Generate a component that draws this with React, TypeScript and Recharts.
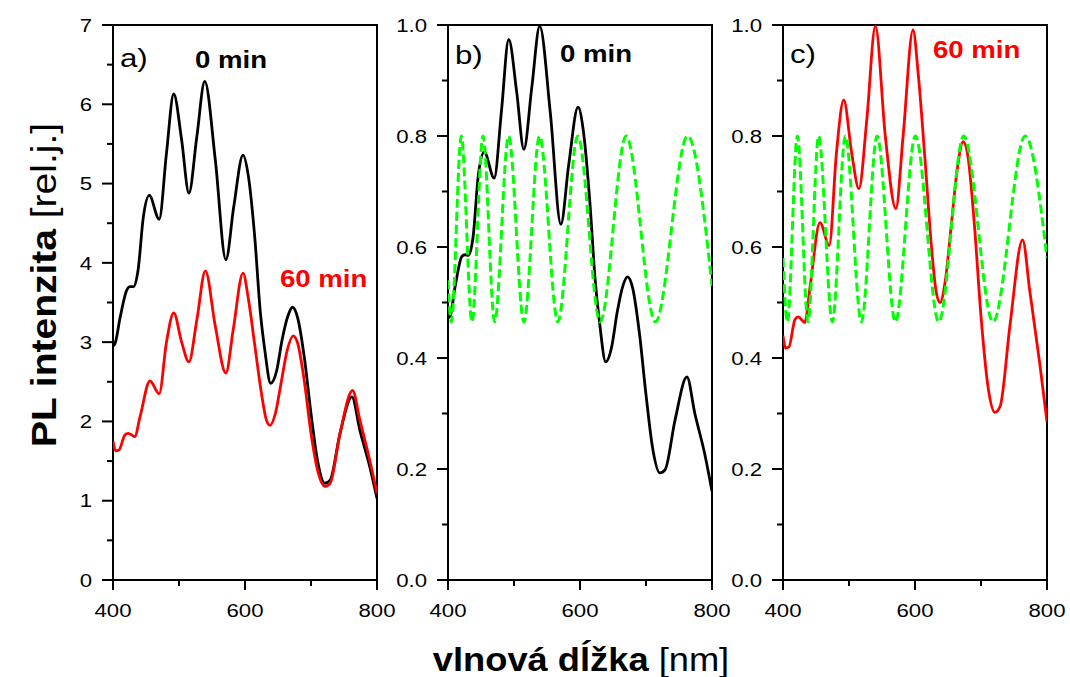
import React from 'react';
import { LineChart, Line, XAxis, YAxis, ReferenceArea } from 'recharts';

// axis ticks
const wlTicks = [400, 500, 600, 700, 800];
const wlLabels = [400, 600, 800];
const absTicks = [0, 0.5, 1, 1.5, 2, 2.5, 3, 3.5, 4, 4.5, 5, 5.5, 6, 6.5, 7];
const absLabels = [0, 1, 2, 3, 4, 5, 6, 7];
const normTicks = [0, 0.1, 0.2, 0.3, 0.4, 0.5, 0.6, 0.7, 0.8, 0.9, 1.0];
const normLabels = [0, 0.2, 0.4, 0.6, 0.8, 1.0];

// a) raw spectra, 0 min
const a0Wl = [400, 403, 411, 421, 426, 431, 438, 446, 455, 470, 481, 492, 504, 515, 527, 539, 555, 571, 583, 597, 605, 615, 623, 630, 639, 648, 656, 665, 672, 680, 690, 700, 710, 721, 729, 744, 762, 774, 789, 800];
const a0Pl = [2.95, 2.98, 3.32, 3.66, 3.7, 3.7, 3.91, 4.58, 4.85, 4.55, 5.38, 6.13, 5.55, 4.88, 5.59, 6.29, 5.3, 4.04, 4.71, 5.36, 5.1, 4.3, 3.4, 2.9, 2.48, 2.64, 3.02, 3.33, 3.44, 3.3, 2.8, 2.1, 1.5, 1.22, 1.26, 1.85, 2.31, 1.89, 1.43, 1.03];

// a) raw spectra, 60 min
const a60Wl = [400, 404, 409, 418, 423, 433, 441, 456, 470, 481, 492, 504, 515, 527, 540, 555, 571, 582, 597, 605, 615, 625, 632, 638, 646, 655, 664, 673, 680, 690, 700, 711, 721, 729, 744, 763, 774, 789, 800];
const a60Pl = [1.75, 1.63, 1.64, 1.83, 1.85, 1.81, 2.06, 2.51, 2.35, 3.0, 3.37, 3.0, 2.75, 3.28, 3.9, 3.2, 2.61, 3.15, 3.87, 3.55, 2.95, 2.35, 2.03, 1.95, 2.1, 2.5, 2.9, 3.08, 2.98, 2.5, 1.85, 1.35, 1.18, 1.22, 1.85, 2.39, 2.02, 1.51, 1.09];

// b) normalized 0 min
const b0Wl = [400, 403, 411, 421, 426, 431, 438, 446, 455, 470, 481, 492, 504, 515, 527, 539, 555, 571, 583, 597, 605, 615, 623, 630, 639, 648, 656, 665, 672, 680, 690, 700, 710, 721, 729, 744, 762, 774, 789, 800];
const b0Pl = [0.472, 0.475, 0.53, 0.583, 0.586, 0.585, 0.618, 0.73, 0.771, 0.724, 0.845, 0.974, 0.88, 0.776, 0.888, 0.998, 0.842, 0.641, 0.749, 0.852, 0.81, 0.68, 0.54, 0.46, 0.393, 0.42, 0.48, 0.53, 0.546, 0.525, 0.445, 0.334, 0.238, 0.193, 0.199, 0.288, 0.366, 0.3, 0.227, 0.16];

// c) normalized 60 min
const c60Wl = [400, 404, 409, 418, 423, 433, 441, 456, 470, 481, 492, 504, 515, 527, 540, 555, 571, 582, 597, 605, 615, 625, 632, 638, 646, 655, 664, 673, 680, 690, 700, 711, 721, 729, 744, 763, 774, 789, 800];
const c60Pl = [0.44, 0.418, 0.42, 0.469, 0.474, 0.464, 0.528, 0.644, 0.603, 0.77, 0.865, 0.77, 0.705, 0.83, 0.998, 0.8, 0.669, 0.8, 0.991, 0.91, 0.76, 0.6, 0.52, 0.5, 0.54, 0.64, 0.74, 0.79, 0.765, 0.64, 0.475, 0.345, 0.302, 0.313, 0.46, 0.613, 0.52, 0.39, 0.285];

// interference fit (green dashed) for b) and c)
const bFitWl = [400, 405, 420.2, 436.3, 453, 470.7, 491.8, 515, 538.7, 566.4, 596.7, 630.5, 669.9, 714.2, 763, 800];
const bFitPl = [0.54, 0.465, 0.8, 0.465, 0.8, 0.465, 0.8, 0.465, 0.8, 0.465, 0.8, 0.465, 0.8, 0.465, 0.8, 0.53];
const cFitWl = [400, 406.6, 421.8, 437.9, 454, 474.8, 494.5, 518.8, 542.5, 570.3, 600.6, 636, 673.8, 718.2, 767, 800];
const cFitPl = [0.58, 0.465, 0.8, 0.465, 0.8, 0.465, 0.8, 0.465, 0.8, 0.465, 0.8, 0.465, 0.8, 0.465, 0.8, 0.58];

const toPts = (wl: number[], pl: number[]) => wl.map((w, i) => ({ wl: w, pl: pl[i] }));

const FONT = "'Liberation Sans', Arial, sans-serif";
const SX = 1.2; // labels are a bit wide in the original

const isMajor = (v: number, majors: number[]) => majors.some((m) => Math.abs(m - v) < 1e-6);

function yTick(majors: number[], digits: number) {
  return (props: any) => {
    const { x, y, payload } = props;
    const v = payload.value as number;
    const major = isMajor(v, majors);
    return (
      <g>
        <line x1={x} y1={y} x2={x - (major ? 11 : 6)} y2={y} stroke="#000" strokeWidth={2} />
        {major && (
          <text
            transform={`translate(${x - 21},${y}) scale(${SX},1)`}
            textAnchor="end"
            dy="0.36em"
            fontSize={18.5}
            fontFamily={FONT}
            fill="#000"
          >
            {v.toFixed(digits)}
          </text>
        )}
      </g>
    );
  };
}

function xTick(props: any) {
  const { x, y, payload } = props;
  const v = payload.value as number;
  const major = isMajor(v, wlLabels);
  return (
    <g>
      <line x1={x} y1={y} x2={x} y2={y + (major ? 10 : 6)} stroke="#000" strokeWidth={2} />
      {major && (
        <text
          transform={`translate(${x},${y + 37}) scale(${SX},1)`}
          textAnchor="middle"
          fontSize={18.5}
          fontFamily={FONT}
          fill="#000"
        >
          {v}
        </text>
      )}
    </g>
  );
}

type PanelProps = {
  left: number;
  axisW: number;
  yMax: number;
  yTicks: number[];
  yMajors: number[];
  digits: number;
  children: React.ReactNode;
};

function Panel({ left, axisW, yMax, yTicks, yMajors, digits, children }: PanelProps) {
  const plotW = 264;
  return (
    <div style={{ position: 'absolute', left, top: 0 }}>
      <LineChart width={axisW + plotW + 25} height={677} margin={{ top: 25, right: 25, bottom: 57, left: 0 }}>
        <XAxis
          type="number"
          dataKey="wl"
          domain={[400, 800]}
          ticks={wlTicks}
          interval={0}
          height={40}
          axisLine={false}
          tickLine={false}
          tickSize={0}
          tickMargin={0}
          tick={xTick}
          allowDataOverflow
        />
        <YAxis
          type="number"
          domain={[0, yMax]}
          ticks={yTicks}
          interval={0}
          width={axisW}
          axisLine={false}
          tickLine={false}
          tickSize={0}
          tickMargin={0}
          tick={yTick(yMajors, digits)}
          allowDataOverflow
        />
        <ReferenceArea x1={400} x2={800} y1={0} y2={yMax} fill="none" fillOpacity={0} stroke="#000" strokeWidth={2} />
        {children}
      </LineChart>
    </div>
  );
}

const lineCommon = {
  dataKey: 'pl',
  type: 'monotone' as const,
  dot: false,
  activeDot: false,
  isAnimationActive: false,
};

export default function App() {
  return (
    <div style={{ position: 'absolute', left: 0, top: 0, width: 1070, height: 677, background: '#fff', overflow: 'hidden' }}>
      <Panel left={0} axisW={113} yMax={7} yTicks={absTicks} yMajors={absLabels} digits={0}>
        <Line {...lineCommon} data={toPts(a0Wl, a0Pl)} stroke="#000" strokeWidth={2.8} />
        <Line {...lineCommon} data={toPts(a60Wl, a60Pl)} stroke="#ff0000" strokeWidth={2.8} />
      </Panel>
      <Panel left={380} axisW={68} yMax={1} yTicks={normTicks} yMajors={normLabels} digits={1}>
        <Line {...lineCommon} data={toPts(b0Wl, b0Pl)} stroke="#000" strokeWidth={2.8} />
        <Line {...lineCommon} data={toPts(bFitWl, bFitPl)} stroke="#00ff00" strokeWidth={3} strokeDasharray="9 4" />
      </Panel>
      <Panel left={720} axisW={63} yMax={1} yTicks={normTicks} yMajors={normLabels} digits={1}>
        <Line {...lineCommon} data={toPts(c60Wl, c60Pl)} stroke="#ff0000" strokeWidth={2.8} />
        <Line {...lineCommon} data={toPts(cFitWl, cFitPl)} stroke="#00ff00" strokeWidth={3} strokeDasharray="9 4" />
      </Panel>
      <svg width={1070} height={677} style={{ position: 'absolute', left: 0, top: 0, pointerEvents: 'none' }} fontFamily={FONT}>
        <text transform={`translate(120,67) scale(${SX},1)`} fontSize={26}>a)</text>
        <text transform={`translate(195,68) scale(${SX},1)`} fontSize={23} fontWeight="bold">0 min</text>
        <text transform={`translate(280,287) scale(${SX},1)`} fontSize={23} fontWeight="bold" fill="#ff0000">60 min</text>
        <text transform={`translate(455,64) scale(${SX},1)`} fontSize={26}>b)</text>
        <text transform={`translate(560,62) scale(${SX},1)`} fontSize={23} fontWeight="bold">0 min</text>
        <text transform={`translate(790,63) scale(${SX},1)`} fontSize={26}>c)</text>
        <text transform={`translate(933,58) scale(${SX},1)`} fontSize={23} fontWeight="bold" fill="#ff0000">60 min</text>
        <text transform="translate(56,285) rotate(-90) scale(1.3,1.2)" textAnchor="middle" fontSize={30}>
          <tspan fontWeight="bold">PL intenzita </tspan>
          <tspan>[rel.j.]</tspan>
        </text>
        <text transform="translate(581,671) scale(1.1,1)" textAnchor="middle" fontSize={33}>
          <tspan fontWeight="bold">vlnová dĺžka </tspan>
          <tspan>[nm]</tspan>
        </text>
      </svg>
    </div>
  );
}
